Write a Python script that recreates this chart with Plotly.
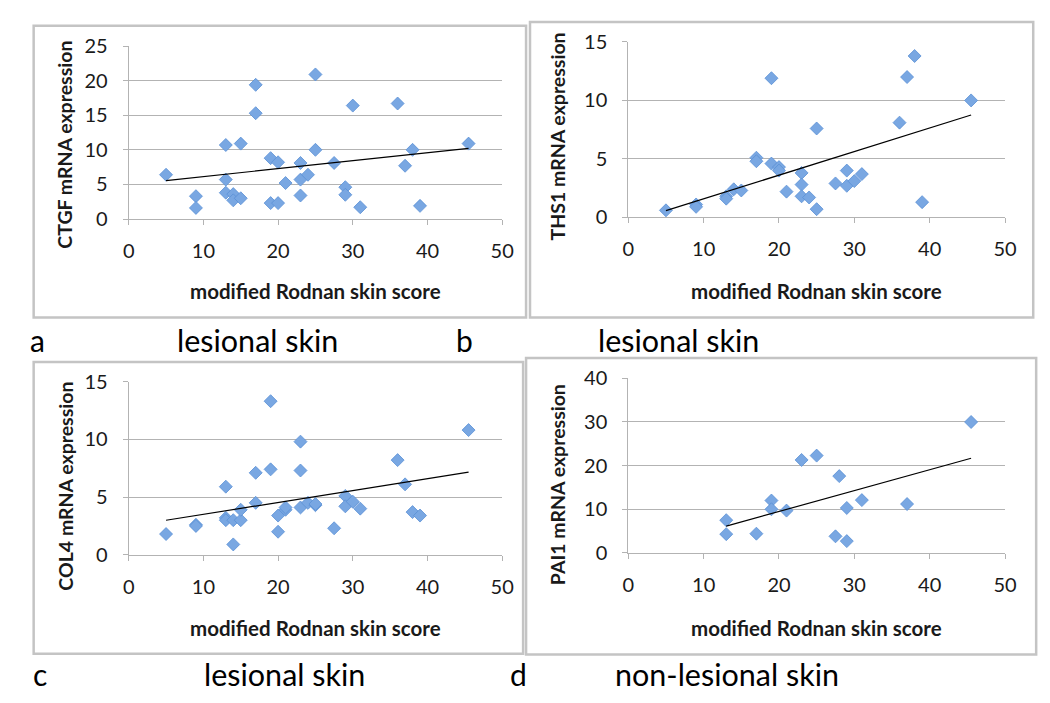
import numpy as np
import plotly.graph_objects as go

# ---------------- data ----------------
# panel a: CTGF, lesional skin
a_x = [5, 9, 9, 13, 13, 13, 14, 14, 15, 15, 17, 17, 19, 20, 19, 20, 21, 23, 23, 24, 23,
       25, 25, 27.5, 30, 29, 29, 31, 36, 37, 38, 39, 45.5]
a_y = [6.4, 3.3, 1.6, 10.7, 5.7, 3.8, 3.6, 2.7, 3.0, 10.9, 19.4, 15.3, 8.8, 8.2, 2.3, 2.3, 5.2, 8.1, 5.7, 6.4, 3.4,
       20.9, 10.0, 8.1, 16.4, 4.6, 3.5, 1.7, 16.7, 7.7, 10.0, 1.9, 10.9]

# panel b: THS1, lesional skin
b_x = [5, 9, 9, 13, 13, 14, 15, 17, 17, 19, 19, 20, 20, 21, 23, 23, 23, 24, 25, 25,
       27.5, 29, 29, 30, 31, 36, 37, 38, 39, 45.5]
b_y = [0.6, 1.1, 0.9, 1.8, 1.6, 2.4, 2.3, 5.1, 4.8, 11.9, 4.6, 4.3, 4.0, 2.2, 3.8, 2.8, 1.8, 1.7, 7.6, 0.7,
       2.9, 4.0, 2.7, 3.1, 3.7, 8.1, 12.0, 13.8, 1.3, 10.0]

# panel c: COL4, lesional skin
c_x = [5, 9, 9, 13, 13, 13, 14, 14, 15, 15, 17, 17, 19, 19, 20, 20, 21, 21, 23, 23, 23, 24,
       25, 25, 27.5, 29, 29, 30, 31, 36, 37, 38, 39, 45.5]
c_y = [1.8, 2.6, 2.5, 5.9, 3.2, 3.0, 3.0, 0.9, 3.0, 3.9, 7.1, 4.5, 13.3, 7.4, 3.4, 2.0, 3.9, 4.1, 9.8, 7.3, 4.1, 4.5,
       4.3, 4.4, 2.3, 5.1, 4.2, 4.6, 4.0, 8.2, 6.1, 3.7, 3.4, 10.8]

# panel d: PAI1, non-lesional skin
d_x = [13, 13, 17, 19, 19, 21, 23, 25, 27.5, 28, 29, 29, 31, 37, 45.5]
d_y = [7.5, 4.3, 4.4, 12.0, 10.0, 9.7, 21.3, 22.3, 3.8, 17.6, 10.3, 2.7, 12.1, 11.2, 30.0]

x_ticks = [0, 10, 20, 30, 40, 50]
y_titles = ["CTGF mRNA expression", "THS1 mRNA expression", "COL4 mRNA expression", "PAI1 mRNA expression"]
x_title = "modified Rodnan skin score"
panel_letters = ["a", "b", "c", "d"]
panel_captions = ["lesional skin", "lesional skin", "lesional skin", "non-lesional skin"]
y_ranges = [[0, 25], [0, 15], [0, 15], [0, 40]]
y_dticks = [5, 5, 5, 10]

W, H = 1050, 703
def px(v):
    return v / W
def py(v):
    return 1 - v / H

# plot-area pixel boxes: (x0, x1, ytop, ybottom)
areas = [(116.7, 496.7, 26.0, 205.0),
         (625.0, 1008.3, 21.7, 203.3),
         (116.7, 496.7, 373.3, 552.7),
         (625.0, 1008.3, 370.0, 550.7)]
frames = [(20, 521, 5, 307), (525, 1037, 1, 307), (20, 518, 353, 655), (521, 1040, 349, 656)]
ytitle_pos = [(52, 128), (553, 120), (52, 482), (553, 480)]
xtitle_pos = [(307, 280), (816, 280), (307, 628), (816, 628)]
letter_pos = [(24, 330), (458, 330), (26, 676), (513, 676)]
caption_pos = [(248, 330), (676, 330), (275, 676), (725, 676)]

data = [(a_x, a_y), (b_x, b_y), (c_x, c_y), (d_x, d_y)]

fig = go.Figure()
GRID = "#b3b3b3"
TXT = "#1a1a1a"
FONT = "Lato"

shapes = []
annotations = []
for i, (xs, ys) in enumerate(data):
    n = i + 1
    xa = "x" if n == 1 else f"x{n}"
    ya = "y" if n == 1 else f"y{n}"
    fig.add_trace(go.Scatter(
        x=xs, y=ys, mode="markers", xaxis=xa, yaxis=ya, showlegend=False,
        marker=dict(symbol="diamond", size=10, color="#79a7e2",
                    line=dict(color="#5b90d6", width=0.8))))
    k, b = np.polyfit(np.array(xs, float), np.array(ys, float), 1)
    lx = np.array([min(xs), max(xs)], float)
    fig.add_trace(go.Scatter(
        x=lx, y=k * lx + b, mode="lines", xaxis=xa, yaxis=ya, showlegend=False,
        line=dict(color="black", width=1.2)))

    x0, x1, yt, yb = areas[i]
    axkey = "xaxis" if n == 1 else f"xaxis{n}"
    aykey = "yaxis" if n == 1 else f"yaxis{n}"
    fig.update_layout(**{
        axkey: dict(domain=[px(x0), px(x1)], range=[0, 50], tickvals=x_ticks,
                    anchor=ya, showgrid=False, zeroline=False,
                    showline=True, linecolor=GRID, linewidth=1,
                    ticks="outside", ticklen=5, tickcolor=GRID,
                    ticklabelstandoff=9,
                    tickfont=dict(family=FONT, size=20, color=TXT)),
        aykey: dict(domain=[py(yb), py(yt)], range=y_ranges[i], dtick=y_dticks[i],
                    anchor=xa, showgrid=True, gridcolor=GRID, gridwidth=1,
                    zeroline=False, showline=True, linecolor=GRID, linewidth=1,
                    ticks="outside", ticklen=5, tickcolor=GRID,
                    ticklabelstandoff=11,
                    tickfont=dict(family=FONT, size=20, color=TXT)),
    })

    fx0, fx1, fy0, fy1 = frames[i]
    shapes.append(dict(type="rect", xref="paper", yref="paper",
                       x0=px(fx0), x1=px(fx1), y0=py(fy1), y1=py(fy0),
                       line=dict(color="#c4c4c4", width=2.5), layer="below"))

    tx, ty = ytitle_pos[i]
    annotations.append(dict(text=f"<b>{y_titles[i]}</b>", xref="paper", yref="paper",
                            x=px(tx), y=py(ty), showarrow=False, textangle=-90,
                            xanchor="center", yanchor="middle",
                            font=dict(family=FONT, size=19.5, color=TXT)))
    tx, ty = xtitle_pos[i]
    annotations.append(dict(text=f"<b>{x_title}</b>", xref="paper", yref="paper",
                            x=px(tx), y=py(ty), showarrow=False,
                            xanchor="center", yanchor="middle",
                            font=dict(family=FONT, size=20.5, color=TXT)))
    tx, ty = letter_pos[i]
    annotations.append(dict(text=panel_letters[i], xref="paper", yref="paper",
                            x=px(tx), y=py(ty), showarrow=False,
                            xanchor="center", yanchor="middle",
                            font=dict(family=FONT, size=30, color="black")))
    tx, ty = caption_pos[i]
    annotations.append(dict(text=panel_captions[i], xref="paper", yref="paper",
                            x=px(tx), y=py(ty), showarrow=False,
                            xanchor="center", yanchor="middle",
                            font=dict(family=FONT, size=30.5, color="black")))

fig.update_layout(width=W, height=H, margin=dict(l=0, r=0, t=0, b=0),
                  paper_bgcolor="white", plot_bgcolor="white",
                  shapes=shapes, annotations=annotations)

fig.write_html("out.html")
